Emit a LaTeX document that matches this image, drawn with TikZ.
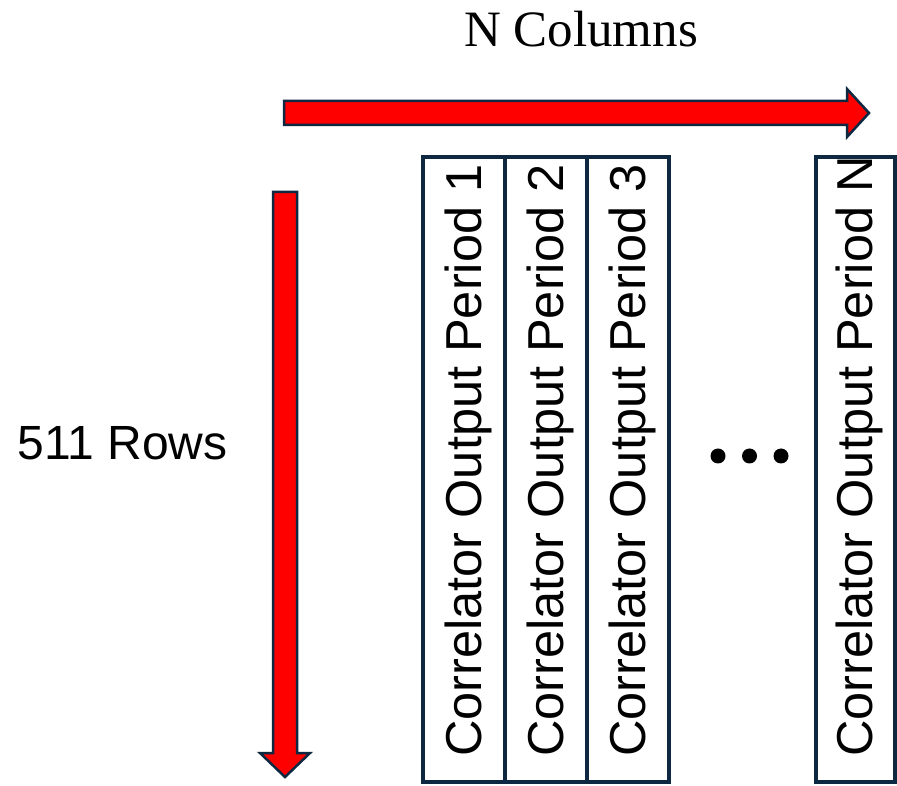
\documentclass[tikz,border=0pt]{standalone}
\usepackage{fontspec}
\setmainfont{Liberation Serif}
\setsansfont{Liberation Sans}
\usetikzlibrary{positioning}
\definecolor{edgeblue}{HTML}{0E2841}
\definecolor{arrowred}{HTML}{FF0000}

\begin{document}
\begin{tikzpicture}[x=1pt, y=1pt,
    colbox/.style={rectangle, draw=edgeblue, line width=4pt, outer sep=0pt,
        minimum width=82pt, minimum height=625pt, inner sep=0pt},
    coltext/.style={rotate=90, anchor=base west, inner sep=0pt,
        font=\sffamily\fontsize{50.5}{60}\selectfont},
    redarrow/.style={fill=arrowred, draw=edgeblue, line width=2.5pt, line join=miter}]
    \useasboundingbox (0,0) rectangle (897,785);

    % Column boxes
    \node[colbox] (p1) at (464, 315.5) {};
    \node[colbox, right=0pt of p1] (p2) {};
    \node[colbox, right=0pt of p2] (p3) {};
    \node[colbox, minimum width=79pt] (pn) at (855, 315.5) {};

    % Rotated labels
    \node[coltext] (t1) at ([shift={(17.5,25)}]p1.south) {Correlator Output Period 1};
    \node[coltext] (t2) at ([shift={(17.5,25)}]p2.south) {Correlator Output Period 2};
    \node[coltext] (t3) at ([shift={(17.5,25)}]p3.south) {Correlator Output Period 3};
    \node[coltext] (tn) at ([shift={(17.5,25)}]pn.south) {Correlator Output Period N};

    % Dots between columns
    \foreach \dx in {718, 749.5, 781}
        \fill (\dx, 329) circle (7.5);

    % Big arrows
    \draw[redarrow] (284,660) -- (847,660) -- (847,648) -- (869,672)
        -- (847,696) -- (847,684) -- (284,684) -- cycle;
    \draw[redarrow] (273,593) -- (273,32) -- (260,32) -- (285,8)
        -- (310,32) -- (297,32) -- (297,593) -- cycle;

    % Axis labels
    \node[anchor=base, font=\fontsize{51}{60}\selectfont] (cols) at (581, 738) {N Columns};
    \node[anchor=base, font=\sffamily\fontsize{48}{58}\selectfont] (rows) at (122.5, 325) {511 Rows};
\end{tikzpicture}
\end{document}
